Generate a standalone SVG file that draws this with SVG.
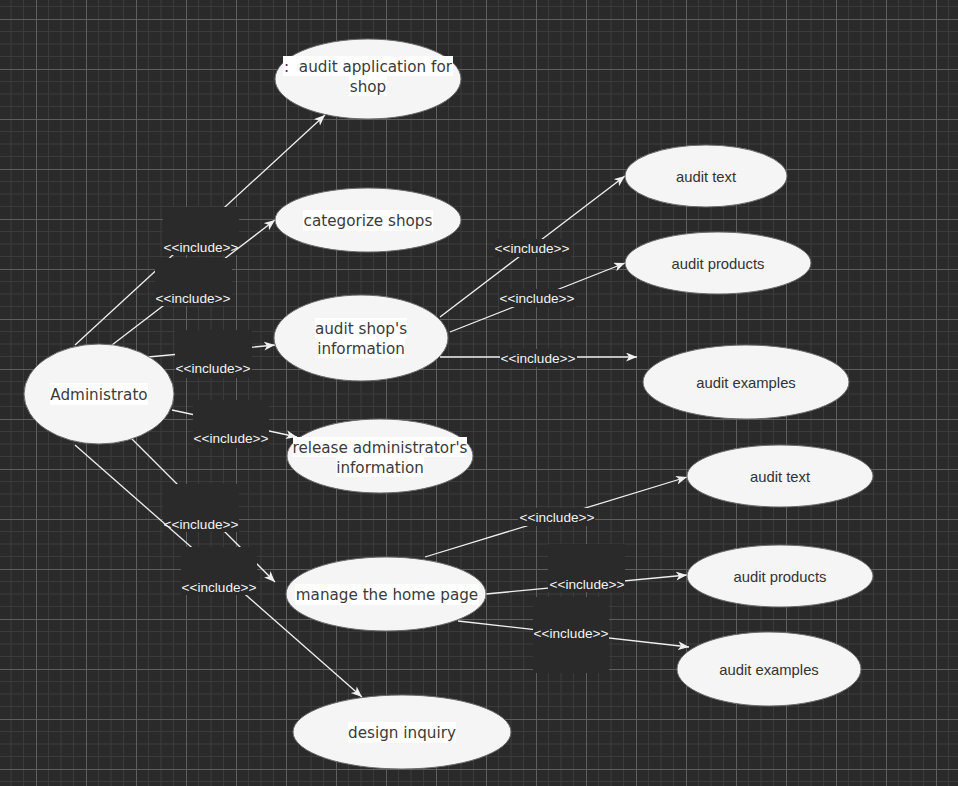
<svg xmlns="http://www.w3.org/2000/svg" width="958" height="786" viewBox="0 0 958 786">
<defs>
<pattern id="grid" x="36" y="19" width="50" height="50" patternUnits="userSpaceOnUse">
<rect width="50" height="50" fill="#2a2a2a"/>
<path d="M12.5 0V50M25 0V50M37.5 0V50M0 12.5H50M0 25H50M0 37.5H50" stroke="#3b3b3b" stroke-width="1" fill="none"/>
<path d="M0.5 0V50M0 0.5H50" stroke="#5e5e5e" stroke-width="1" fill="none"/>
</pattern>
<marker id="arr" markerWidth="12" markerHeight="10" refX="11" refY="4.5" orient="auto" markerUnits="userSpaceOnUse">
<path d="M0,0 L11,4.5 L0,9 L3,4.5 Z" fill="#f0f0f0"/>
</marker>
<style>
.ln{stroke:#f0f0f0;stroke-width:1.3;fill:none;marker-end:url(#arr)}
.bx{fill:#2a2a2a}
.lb{font-family:"Liberation Sans",Arial,sans-serif;font-size:13.6px;fill:#f2f2f2;text-anchor:middle}
.uc{fill:#f5f5f5;stroke:#6a6a6a;stroke-width:1}
.tb{fill:#ffffff}
.t1{font-family:"DejaVu Sans",Verdana,sans-serif;font-size:15.2px;fill:#3a3a3a;text-anchor:middle}
.t2{font-family:"Liberation Sans",Arial,sans-serif;font-size:14.8px;fill:#333333;text-anchor:middle}
</style>
</defs>
<rect width="958" height="786" fill="url(#grid)"/>
<g id="connectors">
<g id="e1"><path class="ln" d="M75 345L325 115"/><rect class="bx" x="163" y="207" width="76" height="48"/><text class="lb" x="201" y="252">&lt;&lt;include&gt;&gt;</text></g>
<g id="e2"><path class="ln" d="M112 345L275 220"/><rect class="bx" x="155" y="258" width="77" height="48"/><text class="lb" x="193" y="303">&lt;&lt;include&gt;&gt;</text></g>
<g id="e3"><path class="ln" d="M148 357L275 345"/><rect class="bx" x="175" y="330" width="77" height="48"/><text class="lb" x="213" y="373">&lt;&lt;include&gt;&gt;</text></g>
<g id="e4"><path class="ln" d="M172 410L297 437"/><rect class="bx" x="193" y="400" width="76" height="48"/><text class="lb" x="231" y="443">&lt;&lt;include&gt;&gt;</text></g>
<g id="e5"><path class="ln" d="M130 437L275 582"/><rect class="bx" x="163" y="484" width="76" height="48"/><text class="lb" x="201" y="529">&lt;&lt;include&gt;&gt;</text></g>
<g id="e6"><path class="ln" d="M75 445L362 697"/><rect class="bx" x="181" y="547" width="76" height="48"/><text class="lb" x="219" y="592">&lt;&lt;include&gt;&gt;</text></g>
<g id="e7"><path class="ln" d="M440 317L625 176"/><rect class="bx" x="494" y="239" width="77" height="18"/><text class="lb" x="532" y="253">&lt;&lt;include&gt;&gt;</text></g>
<g id="e8"><path class="ln" d="M450 332L625 263"/><rect class="bx" x="499" y="289" width="77" height="18"/><text class="lb" x="537" y="303">&lt;&lt;include&gt;&gt;</text></g>
<g id="e9"><path class="ln" d="M440 357L637 357"/><rect class="bx" x="500" y="349" width="77" height="18"/><text class="lb" x="538" y="363">&lt;&lt;include&gt;&gt;</text></g>
<g id="e10"><path class="ln" d="M425 557L687 477"/><rect class="bx" x="518" y="508" width="77" height="18"/><text class="lb" x="557" y="522">&lt;&lt;include&gt;&gt;</text></g>
<g id="e11"><path class="ln" d="M486 594L687 575"/><rect class="bx" x="548" y="544" width="77" height="48"/><text class="lb" x="587" y="589">&lt;&lt;include&gt;&gt;</text></g>
<g id="e12"><path class="ln" d="M458 621L689 647"/><rect class="bx" x="533" y="597" width="76" height="76"/><text class="lb" x="571" y="638">&lt;&lt;include&gt;&gt;</text></g>
</g>
<g id="n-admin"><ellipse class="uc" cx="99" cy="394" rx="75" ry="50"/><rect class="tb" x="50" y="383" width="98" height="22"/><text class="t1" x="99" y="399.5">Administrato</text></g>
<g id="n-audit-app"><ellipse class="uc" cx="368" cy="79" rx="93" ry="40"/><rect class="tb" x="283" y="56" width="170" height="20"/><rect class="tb" x="349" y="76" width="38" height="20"/><text class="t1" x="368" y="71.5" xml:space="preserve" style="white-space:pre">:  audit application for</text><text class="t1" x="368" y="91.5">shop</text></g>
<g id="n-categorize"><ellipse class="uc" cx="368" cy="220" rx="93" ry="32"/><rect class="tb" x="303" y="210" width="130" height="21"/><text class="t1" x="368" y="226">categorize shops</text></g>
<g id="n-audit-shop"><ellipse class="uc" cx="361" cy="338" rx="87" ry="43"/><rect class="tb" x="315" y="318" width="92" height="20"/><rect class="tb" x="318" y="338" width="87" height="20"/><text class="t1" x="361" y="333.5">audit shop's</text><text class="t1" x="361" y="353.5">information</text></g>
<g id="n-release"><ellipse class="uc" cx="380" cy="456" rx="93" ry="37"/><rect class="tb" x="293" y="437" width="174" height="20"/><rect class="tb" x="336" y="457" width="88" height="20"/><text class="t1" x="380" y="452.5">release administrator's</text><text class="t1" x="380" y="472.5">information</text></g>
<g id="n-manage"><ellipse class="uc" cx="386" cy="594" rx="100" ry="37"/><rect class="tb" x="295" y="584" width="184" height="21"/><text class="t1" x="387" y="600">manage the home page</text></g>
<g id="n-design"><ellipse class="uc" cx="402" cy="732" rx="109" ry="37"/><rect class="tb" x="348" y="722" width="108" height="21"/><text class="t1" x="402" y="738">design inquiry</text></g>
<g id="n-text1"><ellipse class="uc" cx="706" cy="176" rx="81" ry="31"/><text class="t2" x="706" y="182">audit text</text></g>
<g id="n-products1"><ellipse class="uc" cx="718" cy="263" rx="93" ry="31"/><text class="t2" x="718" y="269">audit products</text></g>
<g id="n-examples1"><ellipse class="uc" cx="746" cy="382" rx="103" ry="37"/><text class="t2" x="746" y="388">audit examples</text></g>
<g id="n-text2"><ellipse class="uc" cx="780" cy="476" rx="93" ry="31"/><text class="t2" x="780" y="482">audit text</text></g>
<g id="n-products2"><ellipse class="uc" cx="780" cy="576" rx="93" ry="31"/><text class="t2" x="780" y="582">audit products</text></g>
<g id="n-examples2"><ellipse class="uc" cx="769" cy="669" rx="92" ry="37"/><text class="t2" x="769" y="675">audit examples</text></g>
</svg>
